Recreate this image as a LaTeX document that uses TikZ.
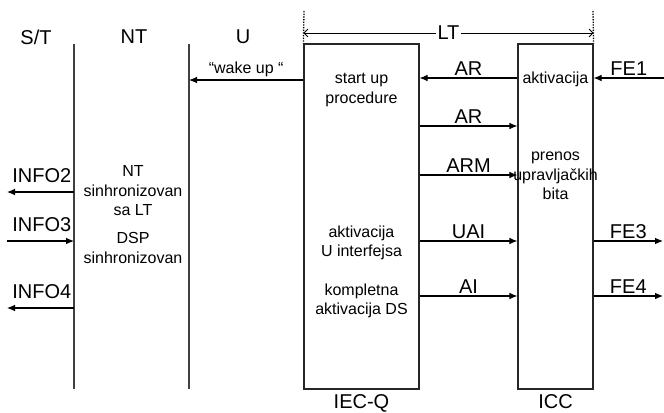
\documentclass[tikz,border=0pt]{standalone}
\usepackage{fontspec}
\setmainfont{Liberation Sans}
\usetikzlibrary{arrows.meta}

\begin{document}
\begin{tikzpicture}[x=0.75pt,y=-0.75pt,
    lbl/.style={font=\fontsize{15}{18}\selectfont,inner sep=1.5pt},
    txt/.style={font=\fontsize{12}{14.6}\selectfont,align=center},
    sig/.style={-{Latex[length=6pt,width=5pt]},line width=0.8pt},
    lifeline/.style={draw=black!75,line width=1.2pt},
    blok/.style={draw=black!85,line width=0.9pt,inner sep=0pt,minimum height=258.75pt}]
  \useasboundingbox (0,0) rectangle (664,412);
  % lifelines
  \coordinate (st top) at (74,44);  \coordinate (st bot) at (74,389);
  \coordinate (nt top) at (189,44); \coordinate (nt bot) at (189,389);
  \draw[lifeline] (st top) -- (st bot);
  \draw[lifeline] (nt top) -- (nt bot);
  % LT blocks
  \node[blok,minimum width=86.25pt] (iecq) at (361.5,216.5) {};
  \node[blok,minimum width=56.25pt] (icc) at (555.5,216.5) {};
  \node[lbl,below=2pt] (iecqname) at (iecq.south) {IEC-Q};
  \node[lbl,below=2pt] (iccname) at (icc.south) {ICC};
  % headers
  \node[lbl] (st) at (36,37) {S/T};
  \node[lbl] (nt) at (134,37) {NT};
  \node[lbl] (u) at (243,37) {U};
  \coordinate (lt left) at (304,11);
  \coordinate (lt right) at (593,11);
  \draw[densely dotted,line width=1pt] (lt left) -- (iecq.north west);
  \draw[densely dotted,line width=1pt] (lt right) -- (icc.north east);
  \draw[{Straight Barb[length=3pt]}-{Straight Barb[length=3pt]},line width=0.6pt]
    (iecq.west |- 0,33) -- node[lbl,fill=white,pos=0.5] (lt) {LT} (icc.east |- 0,33);
  % texts
  \node[txt] (nttxt) at (133,191) {NT\\sinhronizovan\\sa LT};
  \node[txt] (dsptxt) at (133,248) {DSP\\sinhronizovan};
  \node[txt] (start) at (361.5,90) {start up\\procedure};
  \node[txt] (uakt) at (361.5,243) {aktivacija\\U interfejsa};
  \node[txt] (komp) at (361.5,301) {kompletna\\aktivacija DS};
  \node[txt] (akt) at (icc |- 0,79) {aktivacija};
  \node[txt] (prenos) at (icc |- 0,176) {prenos\\upravlja\v{c}kih\\bita};
  % signals
  \draw[sig] (iecq.west |- 0,80) -- node[txt,above,inner sep=2pt] (wake) {``wake up\ ``} (nt top |- 0,80);
  \draw[sig] (icc.west |- 0,78) -- node[lbl,above] {AR} (iecq.east |- 0,78);
  \foreach \y/\sgn in {126/AR,175/ARM,241/UAI,296/AI}
    \draw[sig] (iecq.east |- 0,\y) -- node[lbl,above] {\sgn} (icc.west |- 0,\y);
  \coordinate (fe1) at (664,78);
  \coordinate (fe3) at (663,241);
  \coordinate (fe4) at (663,296);
  \draw[sig] (fe1) -- node[lbl,above] {FE1} (icc.east |- fe1);
  \draw[sig] (icc.east |- fe3) -- node[lbl,above] {FE3} (fe3);
  \draw[sig] (icc.east |- fe4) -- node[lbl,above] {FE4} (fe4);
  \coordinate (info2) at (7,192);
  \coordinate (info3) at (7,241);
  \coordinate (info4) at (7,308);
  \draw[sig] (st top |- info2) -- node[lbl,above=5pt,xshift=1pt] {INFO2} (info2);
  \draw[sig] (info3) -- node[lbl,above=5pt,xshift=1pt] {INFO3} (st top |- info3);
  \draw[sig] (st top |- info4) -- node[lbl,above=5pt,xshift=1pt] {INFO4} (info4);
\end{tikzpicture}
\end{document}
